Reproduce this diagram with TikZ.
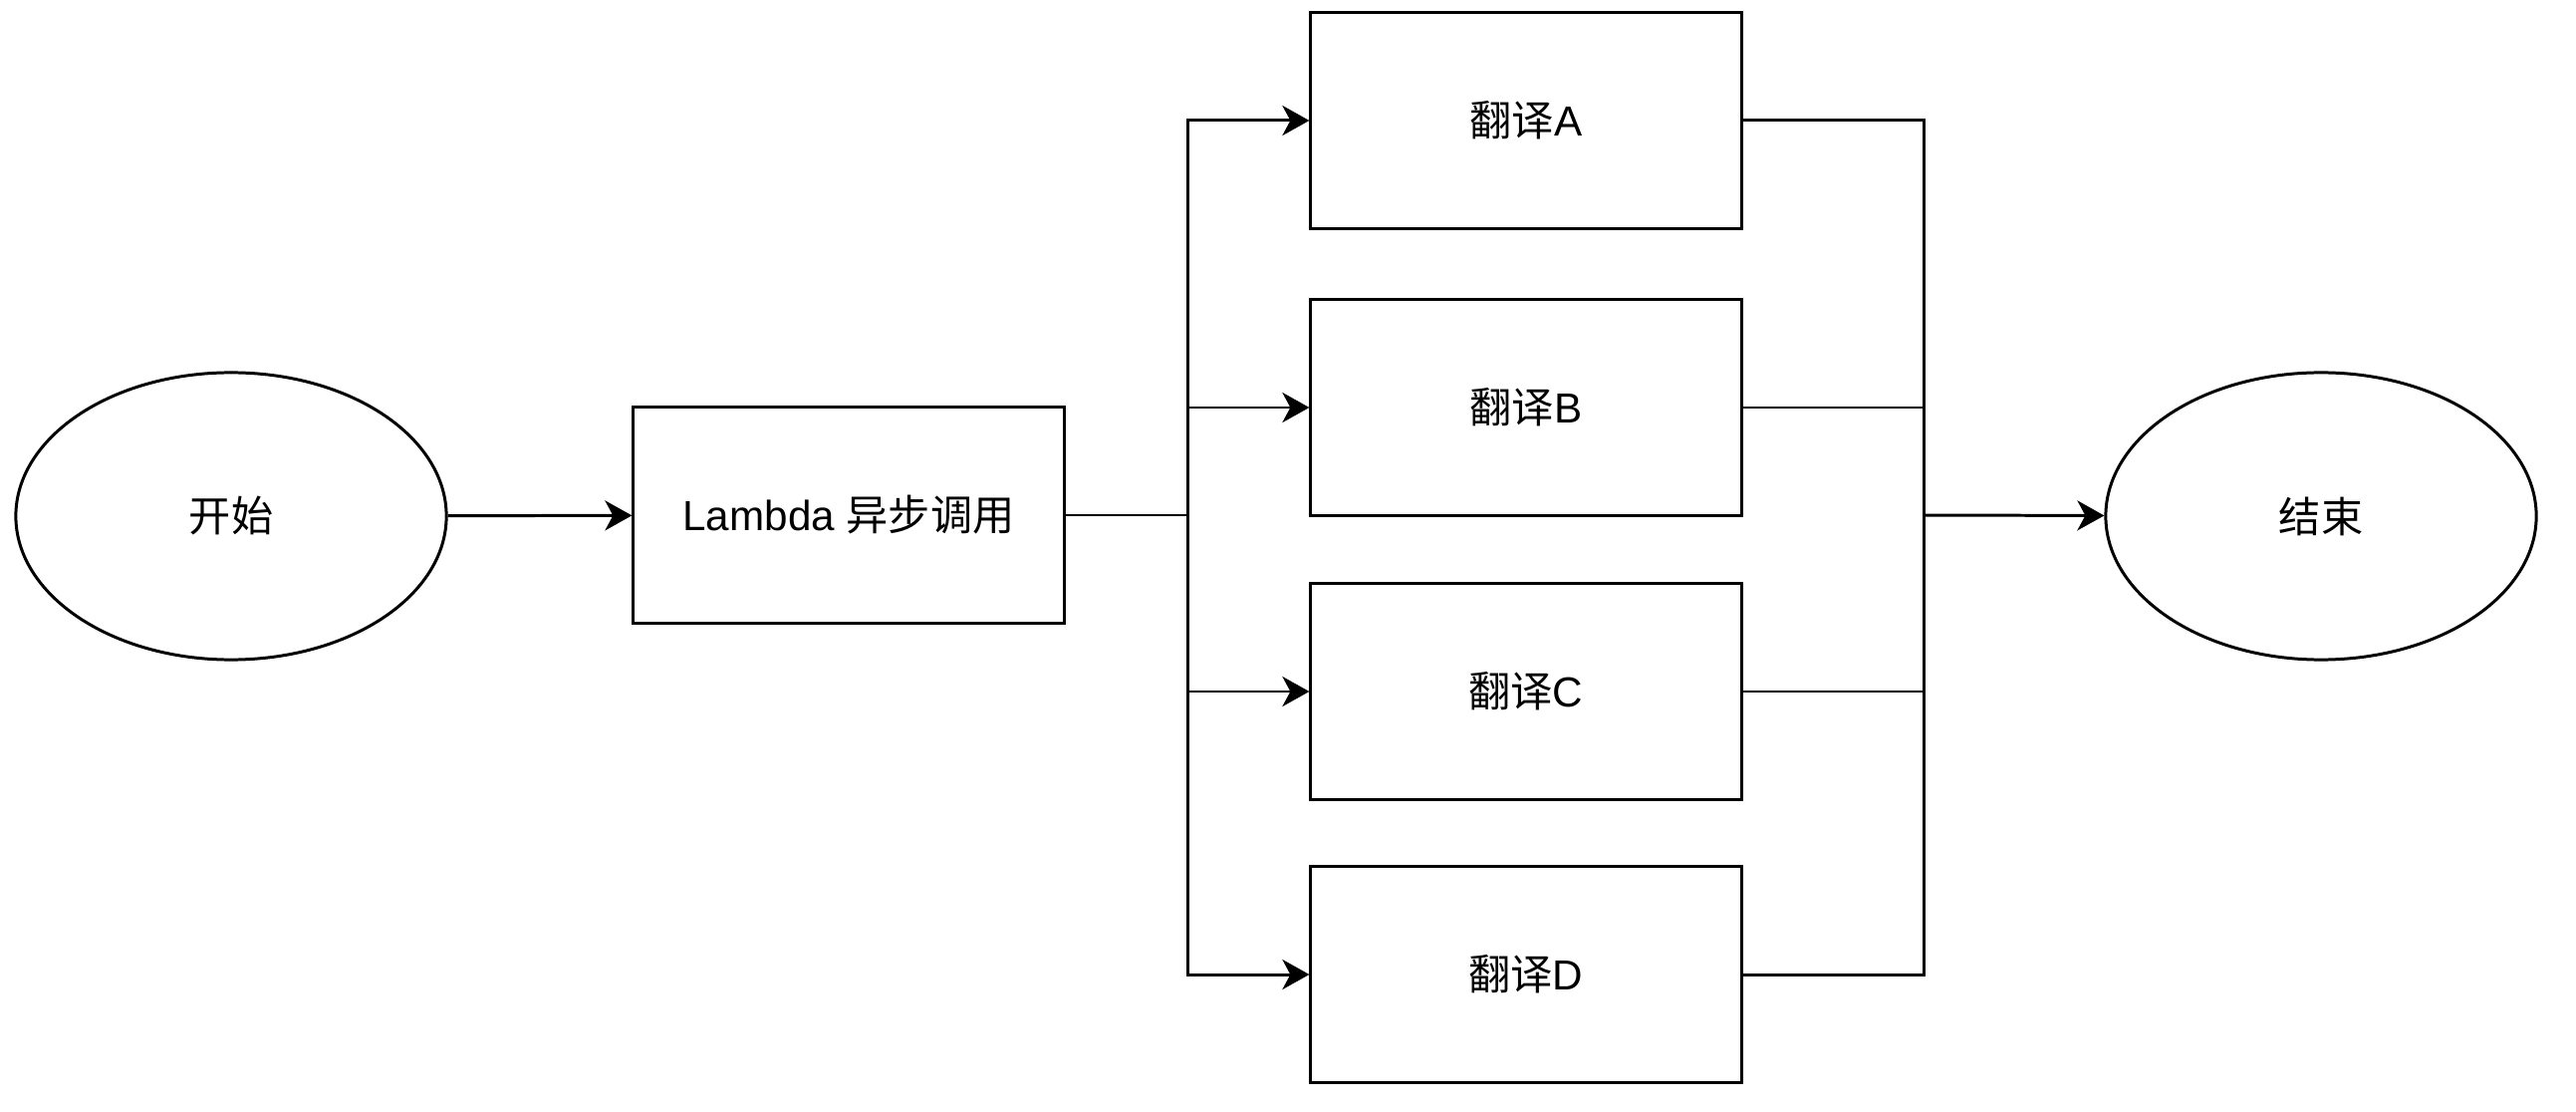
\documentclass[tikz,border=0pt]{standalone}
\usepackage{fontspec}
\setmainfont{Liberation Sans}
\newfontfamily\cjk{Noto Sans CJK SC}
\usetikzlibrary{arrows.meta, positioning, shapes.geometric}
\tikzset{
  termnode/.style = {draw, ellipse, line width=0.85pt, minimum width=4.32cm,
                     minimum height=2.88cm, font=\fontsize{12}{14}\selectfont, inner sep=0pt},
  procnode/.style = {draw, rectangle, line width=0.85pt, minimum width=4.32cm,
                     minimum height=2.16cm, font=\fontsize{12}{14}\selectfont, inner sep=0pt},
  link/.style     = {-, line width=0.85pt},
  flow/.style     = {-{Stealth[length=2.7mm, width=3mm, inset=0.8mm]}, line width=0.85pt},
}

\begin{document}
\begin{tikzpicture}[x=0.01cm, y=-0.01cm]
    \useasboundingbox (0,0) rectangle (2586,1116);
    % --- start / call -------------------------------------------------
    \node[termnode] (start)  at (232,518)  {{\cjk 开始}};
    \node[procnode] (lambda) at (852,517)  {Lambda {\cjk 异步调用}};
    % --- translations -------------------------------------------------
    \node[procnode] (trA)    at (1532,121) {{\cjk 翻译}A};
    \node[procnode] (trB)    at (1532,409) {{\cjk 翻译}B};
    \node[procnode] (trC)    at (1532,694) {{\cjk 翻译}C};
    \node[procnode] (trD)    at (1532,978) {{\cjk 翻译}D};
    % --- end ----------------------------------------------------------
    \node[termnode] (finish) at (2330,518) {{\cjk 结束}};
    \coordinate (split) at (1192,517);
    \coordinate (merge) at (1931,517);
    % --- edges --------------------------------------------------------
    \draw[flow] (start) -- (lambda);
    \draw[link] (lambda) -- (split);
    \foreach \t in {trA, trB, trC, trD} {
      \draw[flow] (split) |- (\t.west);
      \draw[link] (\t.east) -| (merge);
    }
    \draw[flow] (merge) -- (finish);
  \end{tikzpicture}
\end{document}
